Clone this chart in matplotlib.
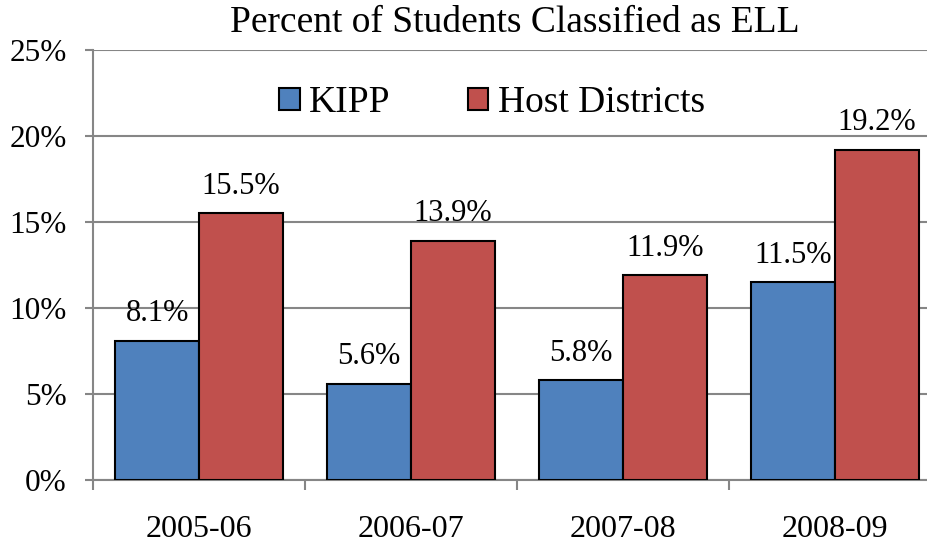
import matplotlib
matplotlib.use("Agg")
import matplotlib.pyplot as plt
import numpy as np

plt.rcParams['font.family'] = ['Liberation Serif', 'DejaVu Serif']

# Datos
years = ['2005-06', '2006-07', '2007-08', '2008-09']
kipp = [8.1, 5.6, 5.8, 11.5]
host = [15.5, 13.9, 11.9, 19.2]
yticks = [0, 5, 10, 15, 20, 25]

fig = plt.figure(figsize=(9.27, 5.44), dpi=100)
ax = fig.add_axes([93 / 927, 64 / 544, 848 / 927, 430 / 544])

x = np.arange(len(years))
w = 0.395
b1 = ax.bar(x - w / 2, kipp, w, color='#4F81BD', edgecolor='black', linewidth=1.5, label='KIPP', zorder=3)
b2 = ax.bar(x + w / 2, host, w, color='#C0504D', edgecolor='black', linewidth=1.5, label='Host Districts', zorder=3)

for bars, vals in ((b1, kipp), (b2, host)):
    for r, v in zip(bars, vals):
        ax.annotate(f'{v:.1f}%', (r.get_x() + r.get_width() / 2, v), xytext=(0, 9),
                    textcoords='offset points', ha='center', va='bottom', fontsize=22)

ax.set_xlim(-0.5, len(years) - 0.5)
ax.set_ylim(0, 25)
ax.set_yticks(yticks)
ax.set_yticklabels([f'{t}%' for t in yticks], fontsize=22.5)
ax.set_xticks(x)
ax.set_xticklabels(years, fontsize=23)
ax.set_xticks(np.arange(len(years) + 1) - 0.5, minor=True)
ax.tick_params(axis='x', which='major', length=0, pad=25)
ax.tick_params(axis='x', which='minor', length=7, width=1.5, color='#868686')
ax.tick_params(axis='y', length=6, width=1.5, color='#868686', pad=13)

ax.grid(axis='y', color='#868686', linewidth=1.5, zorder=0)
for s in ['top', 'right']:
    ax.spines[s].set_visible(False)
for s in ['left', 'bottom']:
    ax.spines[s].set_color('#868686')
    ax.spines[s].set_linewidth(1.5)

fig.text(515 / 927, 1 - 23 / 544, 'Percent of Students Classified as ELL', ha='center', va='center', fontsize=27)

leg = ax.legend(loc='center', ncol=2, frameon=False, fontsize=27, handlelength=0.55, handleheight=0.55,
                handletextpad=0.25, columnspacing=2.05)
leg.set_bbox_to_anchor((492 / 927, 1 - 103 / 544), transform=fig.transFigure)

fig.savefig('out.png', dpi=100)
